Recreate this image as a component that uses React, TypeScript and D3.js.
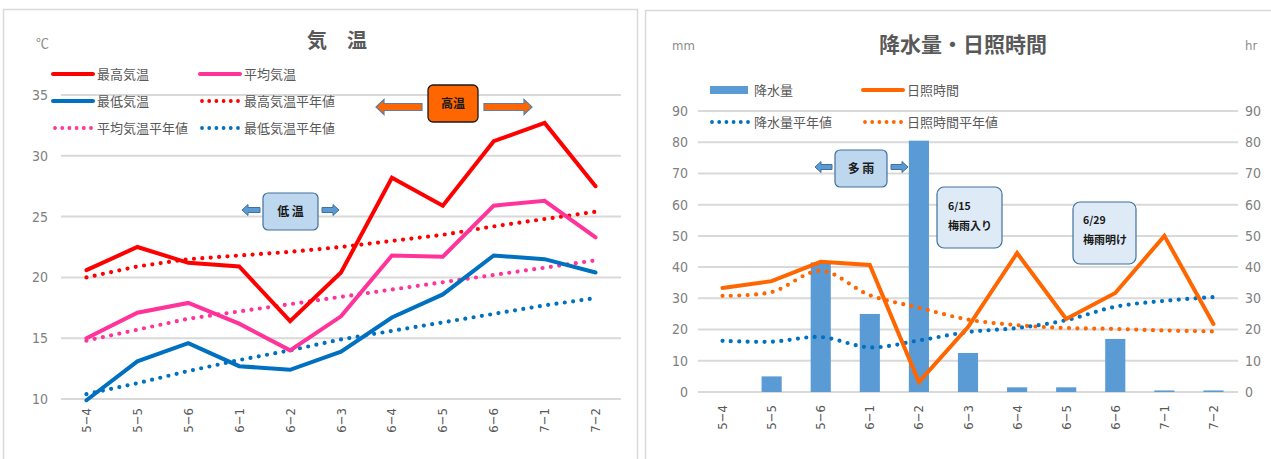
import React from 'react';
import * as d3 from 'd3';

// 旬 labels shared by both charts
const categories = ['5−4', '5−5', '5−6', '6−1', '6−2', '6−3', '6−4', '6−5', '6−6', '7−1', '7−2'];

// 気温 (℃)
const maxTemp = [20.6, 22.5, 21.2, 20.9, 16.4, 20.4, 28.2, 25.9, 31.2, 32.7, 27.5];
const avgTemp = [15.0, 17.1, 17.9, 16.2, 14.0, 16.8, 21.8, 21.7, 25.9, 26.3, 23.3];
const minTemp = [9.9, 13.1, 14.6, 12.7, 12.4, 13.9, 16.7, 18.6, 21.8, 21.5, 20.4];
const maxTempNormal = [20.0, 20.9, 21.5, 21.8, 22.1, 22.5, 23.0, 23.5, 24.2, 24.8, 25.4];
const avgTempNormal = [14.8, 15.7, 16.6, 17.2, 17.8, 18.4, 19.0, 19.6, 20.2, 20.8, 21.4];
const minTempNormal = [10.4, 11.3, 12.3, 13.2, 14.0, 14.9, 15.6, 16.3, 17.0, 17.7, 18.3];
const tempTicks = [10, 15, 20, 25, 30, 35];

// 降水量 (mm) / 日照時間 (hr)
const rain = [0, 5, 41.5, 25, 80.5, 12.5, 1.5, 1.5, 17, 0.5, 0.5];
const sunshine = [33.3, 35.5, 41.7, 40.7, 3.2, 20.8, 44.5, 23.4, 31.7, 50, 21.8];
const rainNormal = [16.4, 16.1, 17.6, 14.3, 16.5, 19.2, 20.5, 23.0, 27.3, 29.2, 30.4];
const sunshineNormal = [30.8, 32.0, 38.8, 31.0, 27.0, 23.2, 21.4, 20.5, 20.2, 19.7, 19.4];
const rainTicks = [0, 10, 20, 30, 40, 50, 60, 70, 80, 90];

const JP = '"Noto Sans CJK JP", "Noto Sans", sans-serif';
const NUM = '"DejaVu Sans Condensed", "Liberation Sans Narrow", sans-serif';
const GRAY = '#595959';
const GRID = '#D9D9D9';

const RED = '#FF0000';
const PINK = '#FF3399';
const BLUE = '#0070C0';
const BAR = '#5B9BD5';
const ORANGE = '#FF6600';

const DOT_W = 4.2;
const DOT_GAP = '0 8.4';

function arrowPath(x0: number, x1: number, y: number, shaft: number, head: number, headLen: number) {
  // horizontal block arrow, pointing toward x1
  const dir = x1 > x0 ? 1 : -1;
  const hx = x1 - dir * headLen;
  const p = d3.path();
  p.moveTo(x0, y - shaft / 2);
  p.lineTo(hx, y - shaft / 2);
  p.lineTo(hx, y - head / 2);
  p.lineTo(x1, y);
  p.lineTo(hx, y + head / 2);
  p.lineTo(hx, y + shaft / 2);
  p.lineTo(x0, y + shaft / 2);
  p.closePath();
  return p.toString();
}

function LegendItem({ x, y, color, dotted, bar, label }: { x: number; y: number; color: string; dotted?: boolean; bar?: boolean; label: string }) {
  return (
    <g>
      {bar ? (
        <rect x={x} y={y - 4} width={38} height={8} fill={color} />
      ) : (
        <line
          x1={dotted ? x + 2 : x}
          x2={dotted ? x + 38 : x + 40}
          y1={y}
          y2={y}
          stroke={color}
          strokeWidth={dotted ? 3.8 : 4}
          strokeLinecap="round"
          strokeDasharray={dotted ? '0 7.2' : undefined}
        />
      )}
      <text x={x + 44} y={y} dy="0.36em" fontFamily={JP} fontSize={13} fill={GRAY}>
        {label}
      </text>
    </g>
  );
}

function TempChart() {
  const x = d3.scaleBand<string>().domain(categories).range([61, 621]);
  const cx = (i: number) => (x(categories[i]) as number) + x.bandwidth() / 2;
  const y = d3.scaleLinear().domain([10, 35]).range([399, 95]);
  const line = d3
    .line<number>()
    .x((_, i) => cx(i))
    .y((d) => y(d));

  const series = [
    { data: maxTempNormal, color: RED, dotted: true },
    { data: avgTempNormal, color: PINK, dotted: true },
    { data: minTempNormal, color: BLUE, dotted: true },
    { data: minTemp, color: BLUE, dotted: false },
    { data: avgTemp, color: PINK, dotted: false },
    { data: maxTemp, color: RED, dotted: false },
  ];

  return (
    <g>
      <rect x={3.5} y={9.5} width={634} height={460} fill="#fff" stroke={GRID} strokeWidth={1.5} />
      <text x={337} y={48} textAnchor="middle" fontFamily={JP} fontWeight="bold" fontSize={20} fill={GRAY}>
        気　温
      </text>
      <text x={36} y={48} fontFamily={JP} fontSize={13} fill="#8C8C8C">
        ℃
      </text>
      {tempTicks.map((t) => (
        <g key={t}>
          <line x1={61} x2={621} y1={y(t)} y2={y(t)} stroke={GRID} strokeWidth={2} />
          <text x={48} y={y(t)} dy="0.35em" textAnchor="end" fontFamily={NUM} fontSize={14} fill="#808080">
            {t}
          </text>
        </g>
      ))}
      {categories.map((c, i) => (
        <text
          key={c}
          transform={`translate(${cx(i)},${408}) rotate(-90)`}
          dy="0.35em"
          textAnchor="end"
          fontFamily={NUM}
          fontSize={13}
          fill={GRAY}
        >
          {c}
        </text>
      ))}
      {series.map((s, k) => (
        <path
          key={k}
          d={line(s.data) || ''}
          fill="none"
          stroke={s.color}
          strokeWidth={s.dotted ? DOT_W : 4}
          strokeLinecap="round"
          strokeLinejoin="miter"
          strokeDasharray={s.dotted ? DOT_GAP : undefined}
        />
      ))}

      <LegendItem x={53} y={74} color={RED} label="最高気温" />
      <LegendItem x={200} y={74} color={PINK} label="平均気温" />
      <LegendItem x={53} y={101} color={BLUE} label="最低気温" />
      <LegendItem x={200} y={101} color={RED} dotted label="最高気温平年値" />
      <LegendItem x={53} y={128} color={PINK} dotted label="平均気温平年値" />
      <LegendItem x={200} y={128} color={BLUE} dotted label="最低気温平年値" />

      {/* 高温 */}
      <path d={arrowPath(422, 376, 107, 7, 15, 8)} fill={ORANGE} stroke="#5B7FA6" strokeWidth={1.2} />
      <path d={arrowPath(484, 532, 107, 7, 15, 8)} fill={ORANGE} stroke="#5B7FA6" strokeWidth={1.2} />
      <rect x={428} y={85} width={50} height={37} rx={5} fill={ORANGE} stroke="#1A1A1A" strokeWidth={1.3} />
      <text x={453} y={104} dy="0.35em" textAnchor="middle" fontFamily={JP} fontWeight="bold" fontSize={12} fill="#1A1A1A">
        高温
      </text>

      {/* 低温 */}
      <path d={arrowPath(260, 242, 210, 5, 11, 6)} fill={BAR} stroke="#41719C" strokeWidth={1} />
      <path d={arrowPath(322, 339, 210, 5, 11, 6)} fill={BAR} stroke="#41719C" strokeWidth={1} />
      <rect x={263} y={193} width={55} height={37} rx={5} fill="#BDD7EE" stroke="#41719C" strokeWidth={1.2} />
      <text x={290.5} y={212} dy="0.35em" textAnchor="middle" fontFamily={JP} fontWeight="bold" fontSize={12} fill="#1A1A1A">
        低 温
      </text>
    </g>
  );
}

function RainChart() {
  const x = d3.scaleBand<string>().domain(categories).range([698, 1238]);
  const cx = (i: number) => (x(categories[i]) as number) + x.bandwidth() / 2;
  const y = d3.scaleLinear().domain([0, 90]).range([392, 111]);
  const barW = x.bandwidth() * 0.41;
  const straight = d3
    .line<number>()
    .x((_, i) => cx(i))
    .y((d) => y(d));
  const smooth = d3
    .line<number>()
    .x((_, i) => cx(i))
    .y((d) => y(d))
    .curve(d3.curveCatmullRom.alpha(0.5));

  const boxText = (bx: number, by: number, l1: string, l2: string) => (
    <g>
      <text x={bx} y={by} dy="0.35em" fontFamily={JP} fontWeight="bold" fontSize={10.5} fill="#1A1A1A">
        {l1}
      </text>
      <text x={bx} y={by + 20} dy="0.35em" fontFamily={JP} fontWeight="bold" fontSize={11} fill="#1A1A1A">
        {l2}
      </text>
    </g>
  );

  return (
    <g>
      <rect x={645.5} y={10.5} width={640} height={460} fill="#fff" stroke={GRID} strokeWidth={1.5} />
      <text x={963} y={52} textAnchor="middle" fontFamily={JP} fontWeight="bold" fontSize={21} fill={GRAY}>
        降水量・日照時間
      </text>
      <text x={672} y={50} fontFamily={NUM} fontSize={13} fill="#8C8C8C">
        mm
      </text>
      <text x={1245} y={50} fontFamily={NUM} fontSize={13} fill="#8C8C8C">
        hr
      </text>
      {rainTicks.map((t) => (
        <g key={t}>
          <line x1={698} x2={1238} y1={y(t)} y2={y(t)} stroke={GRID} strokeWidth={2} />
          <text x={688} y={y(t)} dy="0.35em" textAnchor="end" fontFamily={NUM} fontSize={14} fill="#808080">
            {t}
          </text>
          <text x={1245} y={y(t)} dy="0.35em" textAnchor="start" fontFamily={NUM} fontSize={14} fill="#808080">
            {t}
          </text>
        </g>
      ))}
      {categories.map((c, i) => (
        <text
          key={c}
          transform={`translate(${cx(i)},${405}) rotate(-90)`}
          dy="0.35em"
          textAnchor="end"
          fontFamily={NUM}
          fontSize={13}
          fill={GRAY}
        >
          {c}
        </text>
      ))}
      {rain.map((v, i) => (
        <rect key={i} x={cx(i) - barW / 2} y={y(v)} width={barW} height={y(0) - y(v)} fill={BAR} />
      ))}
      <path d={smooth(sunshineNormal) || ''} fill="none" stroke={ORANGE} strokeWidth={DOT_W} strokeLinecap="round" strokeDasharray={DOT_GAP} />
      <path d={smooth(rainNormal) || ''} fill="none" stroke={BLUE} strokeWidth={DOT_W} strokeLinecap="round" strokeDasharray={DOT_GAP} />
      <path d={straight(sunshine) || ''} fill="none" stroke={ORANGE} strokeWidth={4} strokeLinecap="round" />

      <LegendItem x={710} y={90} color={BAR} bar label="降水量" />
      <LegendItem x={863} y={90} color={ORANGE} label="日照時間" />
      <LegendItem x={710} y={122} color={BLUE} dotted label="降水量平年値" />
      <LegendItem x={863} y={122} color={ORANGE} dotted label="日照時間平年値" />

      {/* 多雨 */}
      <path d={arrowPath(832, 815, 167, 5, 11, 6)} fill={BAR} stroke="#41719C" strokeWidth={1} />
      <path d={arrowPath(891, 908, 167, 5, 11, 6)} fill={BAR} stroke="#41719C" strokeWidth={1} />
      <rect x={835} y={150} width={52} height={37} rx={5} fill="#BDD7EE" stroke="#41719C" strokeWidth={1.2} />
      <text x={861} y={169} dy="0.35em" textAnchor="middle" fontFamily={JP} fontWeight="bold" fontSize={12} fill="#1A1A1A">
        多 雨
      </text>

      {/* 梅雨入り・梅雨明け */}
      <rect x={937} y={187} width={65} height={61} rx={7} fill="#DEEBF7" stroke="#41719C" strokeWidth={1.2} />
      {boxText(948, 206, '6/15', '梅雨入り')}
      <rect x={1073} y={202} width={63} height={62} rx={7} fill="#DEEBF7" stroke="#41719C" strokeWidth={1.2} />
      {boxText(1083, 220, '6/29', '梅雨明け')}
    </g>
  );
}

export default function App() {
  return (
    <div style={{ position: 'absolute', left: 0, top: 0 }}>
      <svg width={1271} height={459} style={{ display: 'block', background: '#fff' }}>
        <TempChart />
        <RainChart />
      </svg>
    </div>
  );
}
